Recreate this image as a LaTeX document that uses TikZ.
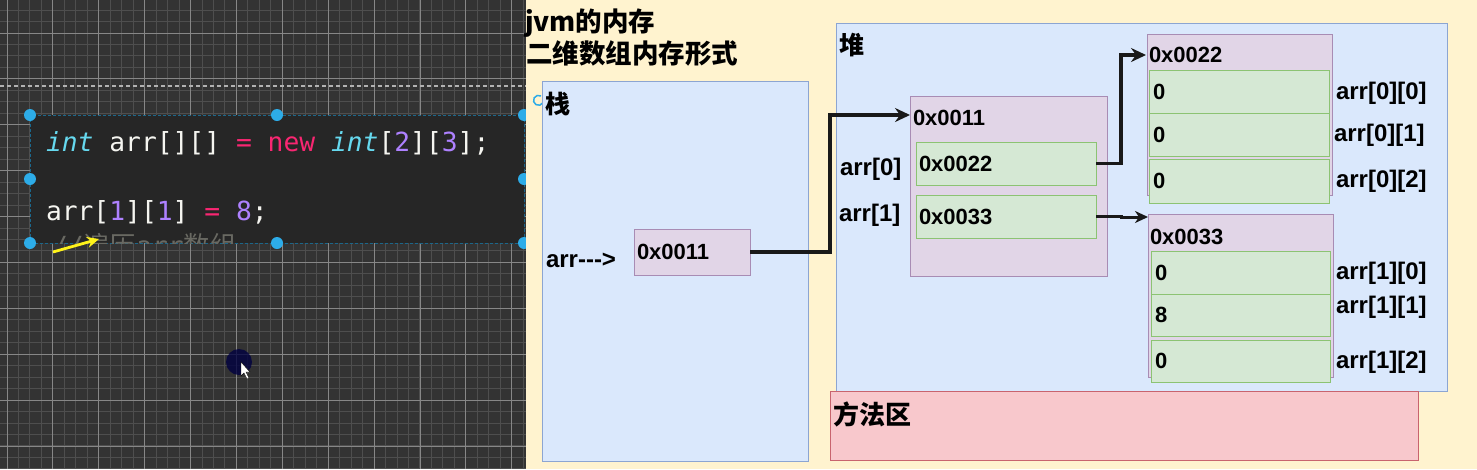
\documentclass[tikz,border=0pt]{standalone}
\usepackage{fontspec}
\setmainfont{Liberation Sans}
\newfontfamily\cjk{Noto Sans CJK SC}
\newfontfamily\codefont{DejaVu Sans Mono}
\usetikzlibrary{arrows.meta,calc,positioning}
\definecolor{editorbg}{RGB}{51,51,51}
\definecolor{gridminor}{RGB}{78,78,78}
\definecolor{gridmajor}{RGB}{135,135,135}
\definecolor{codebg}{RGB}{38,38,38}
\definecolor{handlecol}{RGB}{45,172,232}
\definecolor{cream}{RGB}{255,243,207}
\definecolor{stkfill}{RGB}{218,232,252}
\definecolor{stkline}{RGB}{140,165,210}
\definecolor{purfill}{RGB}{225,213,231}
\definecolor{purline}{RGB}{168,140,180}
\definecolor{grnfill}{RGB}{213,232,212}
\definecolor{grnline}{RGB}{140,195,115}
\definecolor{redfill}{RGB}{248,200,204}
\definecolor{redline}{RGB}{200,100,110}
\definecolor{arrowcol}{RGB}{25,25,25}
\definecolor{cdwhite}{RGB}{245,245,240}
\definecolor{cdcyan}{RGB}{102,217,239}
\definecolor{cdpink}{RGB}{249,38,114}
\definecolor{cdpurple}{RGB}{174,129,255}
\definecolor{cdgray}{RGB}{105,105,98}
\newcommand{\tokint}[1]{{\color{cdcyan}\itshape #1}}
\newcommand{\tokop}[1]{{\color{cdpink}#1}}
\newcommand{\toknum}[1]{{\color{cdpurple}#1}}

\begin{document}
\begin{tikzpicture}[x=1pt, y=-1pt,
 every node/.style={inner sep=0pt, outer sep=0pt},
 area/.style={rectangle, anchor=north west, line width=1pt},
 stackarea/.style={area, draw=stkline, fill=stkfill},
 methodarea/.style={area, draw=redline, fill=redfill},
 objbox/.style={area, draw=purline, fill=purfill},
 cell/.style={area, draw=grnline, fill=grnfill},
 title/.style={font=\cjk\bfseries\fontsize{26.5}{30}\selectfont, anchor=west},
 region/.style={font=\cjk\bfseries\fontsize{25}{30}\selectfont, anchor=west},
 hex/.style={font=\bfseries\fontsize{22}{26}\selectfont, anchor=west},
 idx/.style={font=\bfseries\fontsize{24}{28}\selectfont, anchor=west},
 codeline/.style={font=\codefont\fontsize{26.3}{30}\selectfont, text=cdwhite, anchor=west},
 arrow/.style={-{Stealth[length=15pt, width=14pt, inset=5pt]}, line width=3.6pt, draw=arrowcol},
 thinarrow/.style={-{Stealth[length=13pt, width=12pt, inset=4pt]}, line width=3pt, draw=arrowcol},
 handle/.style={fill=handlecol}]

\useasboundingbox (0,0) rectangle (1477,469);

% editor side
\fill[editorbg] (0,0) rectangle (526,469);
\foreach \k in {0,...,45}
  \draw[gridminor, line width=0.9pt] ({7+11.47*\k},0) -- ({7+11.47*\k},469);
\foreach \k in {-2,...,38}
  \draw[gridminor, line width=0.9pt] (0,{33+11.47*\k}) -- (526,{33+11.47*\k});
\foreach \m in {0,...,11}
  \draw[gridmajor, line width=0.8pt] ({7+45.88*\m},0) -- ({7+45.88*\m},469);
\foreach \m in {0,...,9}
  \draw[gridmajor, line width=0.8pt] (0,{33+45.88*\m}) -- (526,{33+45.88*\m});
\draw[gray!60, line width=1.5pt, dash pattern=on 4pt off 3pt] (0,86) -- (526,86);

\node[area, fill=codebg, draw=handlecol!60!black, densely dashed, line width=0.8pt,
  minimum width=494pt, minimum height=128pt] (code) at (30,115) {};
\node[codeline] (line1) at (46,143) {\tokint{int} arr[][] \tokop{=} \tokop{new} \tokint{int}[\toknum{2}][\toknum{3}];};
\node[codeline] (line2) at (46,212) {arr[\toknum{1}][\toknum{1}] \tokop{=} \toknum{8};};
\begin{scope}
  \clip (code.north west) rectangle (code.south east);
  \node[font=\codefont\fontsize{26.3}{30}\selectfont, text=cdgray, anchor=base west] (line3) at (52,255)
    {//{\cjk 遍历}arr{\cjk 数组}};
\end{scope}
\foreach \hx/\hy in {30/115, 277/115, 524/115, 30/179, 524/179, 30/243, 277/243, 524/243}
  \fill[handle] (\hx,\hy) circle (6pt);
\coordinate (ytail) at (53,252);
\coordinate (yhead) at (99,239);
\draw[-{Stealth[length=12pt, width=11pt]}, line width=2.8pt, yellow!90!white] (ytail) -- (yhead);
\fill[black!75!blue, opacity=0.8] (239,362) circle (13pt);
\filldraw[fill=white, draw=black, line width=0.4pt] (241,362) -- (241,376) -- (244,373) -- (247,379)
  -- (249,378) -- (246,372) -- (250,372) -- cycle;

% jvm memory side
\fill[cream] (526,0) rectangle (1477,469);
\draw[line width=1.5pt, handlecol] (541,96) arc[start angle=60, end angle=330, radius=5pt];

\node[title] (t1) at (525,23) {jvm的内存};
\node[title] (t2) at (526,53) {二维数组内存形式};

\node[stackarea, minimum width=266pt, minimum height=380pt] (stack) at (542,81) {};
\node[region] (stacklbl) at (545,104) {栈};
\node[idx] (arrlbl) at (546,260) {arr-{}-{}->};
\node[objbox, minimum width=116pt, minimum height=46pt] (sref) at (634,229) {};
\node[hex, right=3pt of sref.west] {0x0011};

\node[stackarea, minimum width=611pt, minimum height=368pt] (heap) at (836,23) {};
\node[region] (heaplbl) at (839,45) {堆};

\node[objbox, minimum width=197pt, minimum height=180pt] (h11) at (910,96) {};
\node[hex] (h11lbl) at (913,118) {0x0011};
\node[cell, minimum width=180pt, minimum height=43pt] (g22) at (916,142) {};
\node[hex, right=3pt of g22.west] {0x0022};
\node[cell, minimum width=180pt, minimum height=43pt] (g33) at (916,195) {};
\node[hex, right=3pt of g33.west] {0x0033};
\node[idx] (a0) at (840,169) {arr[0]};
\node[idx] (a1) at (839,215) {arr[1]};

% first row
\node[objbox, minimum width=185pt, minimum height=161pt] (h22) at (1147,34) {};
\node[hex] (h22lbl) at (1149,55) {0x0022};
\node[cell, minimum width=180pt, minimum height=43pt] (c00) at (1149,70) {};
\node[cell, minimum width=180pt, minimum height=43pt] (c01) at (1149,113) {};
\node[cell, minimum width=180pt, minimum height=44pt] (c02) at (1149,159) {};
\node[hex, right=4pt of c00.west] {0};
\node[hex, right=4pt of c01.west] {0};
\node[hex, right=4pt of c02.west] {0};
\node[idx] (l00) at (1336,93) {arr[0][0]};
\node[idx] (l01) at (1334,135) {arr[0][1]};
\node[idx] (l02) at (1336,181) {arr[0][2]};

% second row
\node[objbox, minimum width=185pt, minimum height=163pt] (h33) at (1148,214) {};
\node[hex] (h33lbl) at (1150,237) {0x0033};
\node[cell, minimum width=179pt, minimum height=43pt] (c10) at (1151,251) {};
\node[cell, minimum width=179pt, minimum height=42pt] (c11) at (1151,294) {};
\node[cell, minimum width=179pt, minimum height=42pt] (c12) at (1151,340) {};
\node[hex, right=4pt of c10.west] {0};
\node[hex, right=4pt of c11.west] {8};
\node[hex, right=4pt of c12.west] {0};
\node[idx] (l10) at (1336,273) {arr[1][0]};
\node[idx] (l11) at (1336,307) {arr[1][1]};
\node[idx] (l12) at (1336,362) {arr[1][2]};

\node[methodarea, minimum width=588pt, minimum height=69pt] (method) at (830,391) {};
\node[region, font=\cjk\bfseries\fontsize{26}{30}\selectfont] (methodlbl) at (833,414) {方法区};

% references
\coordinate (h11in) at ($(h11.north west)+(0,19)$);
\coordinate (h22in) at ($(h22.north west)+(-1,21)$);
\coordinate (h33in) at ($(h33.north west)+(0,3)$);
\draw[arrow] (sref.east) -| ($(h11in)+(-80,0)$) -- (h11in);
\draw[arrow] (g22.east) -| ($(h22in)+(-25,0)$) -- (h22in);
\draw[thinarrow] (g33.east) -| ($(h33in)+(-27,0)$) -- (h33in);
\end{tikzpicture}
\end{document}
